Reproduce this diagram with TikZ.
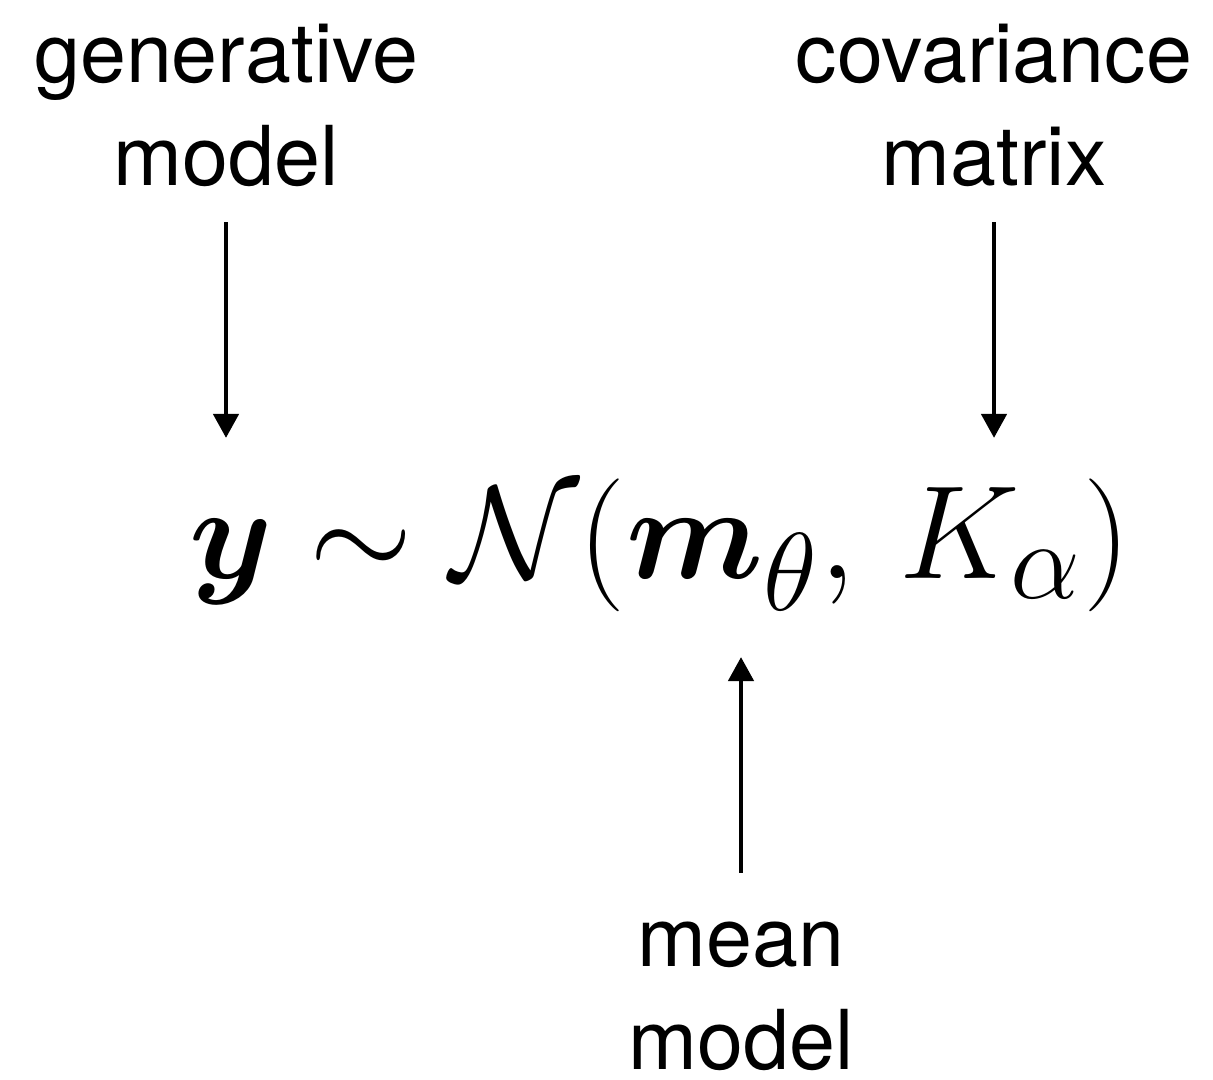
\documentclass[tikz,border=0pt]{standalone}
\usepackage{amsmath,amssymb,bm}
\usepackage{fontspec}
\setmainfont{TeX Gyre Heros}
\usetikzlibrary{arrows.meta}
\begin{document}
\begin{tikzpicture}[x=0.01cm,y=-0.01cm,
  lbl/.style={inner sep=0pt, align=center, font=\fontsize{23.5}{29.3}\selectfont},
  arr/.style={line width=1.3pt, -{Triangle[width=0.25cm,length=0.24cm]}}]
\useasboundingbox (0,0) rectangle (1213,1080);
\node[lbl, anchor=south] (gen) at (226,187) {generative\\model};
\node[lbl, anchor=south] (cov) at (994,187) {covariance\\matrix};
\node[lbl, anchor=south] (mean) at (741,1071) {mean\\model};
\node[inner sep=0pt, anchor=base] (formula) at (660,579)
  {\scalebox{1.52}{\fontsize{24.88}{30}\selectfont$\bm{y}\sim\mathcal{N}(\bm{m}_\theta,\,K_\alpha)$}};
\draw[arr] ([yshift=-0.35cm]gen.south) -- ([yshift=1.41cm]gen.south |- formula.base);
\draw[arr] ([yshift=-0.35cm]cov.south) -- ([yshift=1.41cm]cov.south |- formula.base);
\draw[arr] ([yshift=1.98cm]mean.south) -- ([yshift=-0.78cm]mean.south |- formula.base);
\end{tikzpicture}
\end{document}
